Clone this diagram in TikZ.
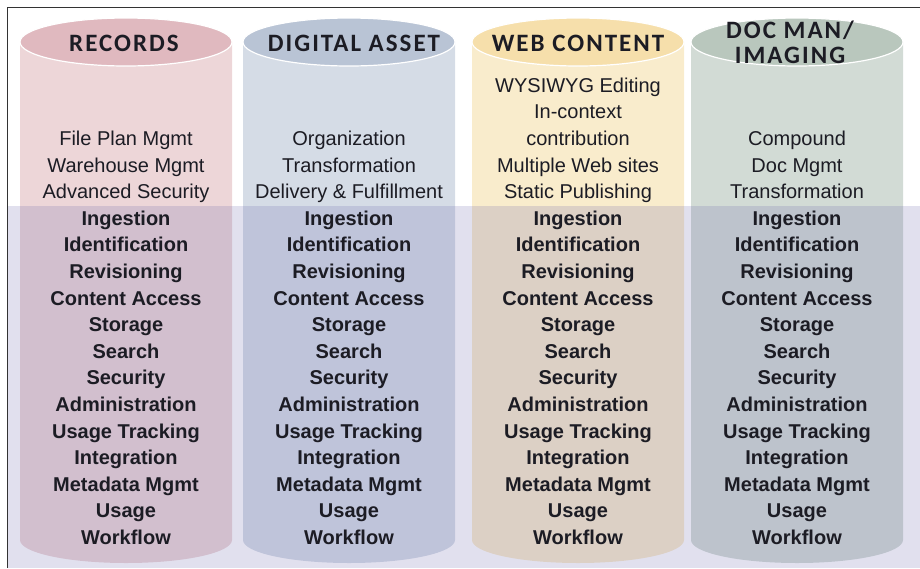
\documentclass[tikz,border=0pt]{standalone}
\usepackage{fontspec}
\setmainfont{Liberation Sans}
\newfontfamily\headfont[LetterSpace=8]{Carlito}

\definecolor{recTop}{HTML}{E0B9BF}
\definecolor{recBody}{HTML}{EDD6D8}
\definecolor{digTop}{HTML}{B9C4D5}
\definecolor{digBody}{HTML}{D5DCE6}
\definecolor{webTop}{HTML}{F6DFAB}
\definecolor{webBody}{HTML}{F9ECCC}
\definecolor{docTop}{HTML}{B9C7BD}
\definecolor{docBody}{HTML}{D2DBD5}
\definecolor{bandCol}{RGB}{105,100,170}
\definecolor{ink}{HTML}{1C1C24}

% one drum: centre x, top colour, body colour
\newcommand{\drum}[3]{%
  \fill[#3] (#1-106,42) -- (#1-106,540)
     arc[start angle=180,end angle=0,x radius=106,y radius=23] -- (#1+106,42) -- cycle;
  \filldraw[fill=#2, draw=white, line width=1.2pt] (#1,42) ellipse[x radius=106, y radius=24];
}

\begin{document}
\begin{tikzpicture}[x=1pt,y=-1pt,
  head/.style={font=\headfont\bfseries\fontsize{25}{25}\selectfont, align=center, text=ink, inner sep=0pt},
  item/.style={font=\fontsize{20}{26.6}\selectfont, anchor=base, inner sep=0pt, text=ink},
  core/.style={item, font=\bfseries\fontsize{20}{26.6}\selectfont}]
\useasboundingbox (0,0) rectangle (920,568);

\drum{126}{recTop}{recBody}
\drum{349}{digTop}{digBody}
\drum{578}{webTop}{webBody}
\drum{797}{docTop}{docBody}

% shared band
\fill[bandCol, fill opacity=0.2] (8,206) rectangle (920,568);
\draw[line width=1.5pt, black!80] (7.5,568) -- (7.5,7.5) -- (920,7.5);

% headers
\node[head] (rec-h) at (124,43) {RECORDS};
\node[head] (dig-h) at (354,43) {DIGITAL ASSET};
\node[head] (web-h) at (578,43) {WEB CONTENT};
\node[head] (doc-h) at (790,42) {DOC MAN/\\IMAGING};

% own features
\foreach \t [count=\k from 2] in {File Plan Mgmt, Warehouse Mgmt, Advanced Security}
  \node[item] (rec-\k) at (126, 92.2+26.6*\k) {\t};
\foreach \t [count=\k from 2] in {Organization, Transformation, Delivery \& Fulfillment}
  \node[item] (dig-\k) at (349, 92.2+26.6*\k) {\t};
\foreach \t [count=\k from 0] in {WYSIWYG Editing, In-context, contribution, Multiple Web sites, Static Publishing}
  \node[item] (web-\k) at (578, 92.2+26.6*\k) {\t};
\foreach \t [count=\k from 2] in {Compound, Doc Mgmt, Transformation}
  \node[item] (doc-\k) at (797, 92.2+26.6*\k) {\t};

% shared core
\foreach \x/\c in {126/rec, 349/dig, 578/web, 797/doc}
  \foreach \t [count=\k from 5] in {Ingestion, Identification, Revisioning, Content Access,
      Storage, Search, Security, Administration, Usage Tracking, Integration,
      Metadata Mgmt, Usage, Workflow}
    \node[core] (\c-\k) at (\x, 92.2+26.6*\k) {\t};

\end{tikzpicture}
\end{document}
